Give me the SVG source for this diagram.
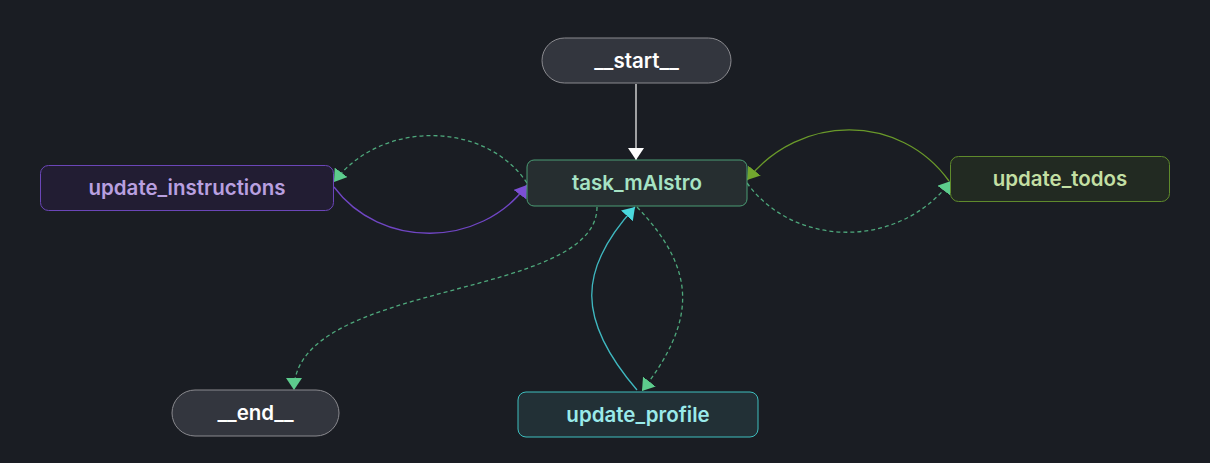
<svg xmlns="http://www.w3.org/2000/svg" width="1210" height="463" viewBox="0 0 1210 463">
<defs>
<style>
.lbl{font-family:Inter,"Noto Sans","Liberation Sans",sans-serif;font-size:20.5px;font-weight:600;text-anchor:middle}
.e{fill:none;stroke-width:1.3}
.d{stroke:#4ea87c;stroke-dasharray:4 3}
</style>
<marker id="aw" markerUnits="userSpaceOnUse" markerWidth="12" markerHeight="16" viewBox="0 0 12 16" refX="12" refY="8" orient="auto"><path d="M0,0 L12,8 L0,16 z" fill="#ffffff"/></marker>
<marker id="ag" markerUnits="userSpaceOnUse" markerWidth="12" markerHeight="16" viewBox="0 0 12 16" refX="12" refY="8" orient="auto"><path d="M0,0 L12,8 L0,16 z" fill="#5dcc8d"/></marker>
<marker id="ap" markerUnits="userSpaceOnUse" markerWidth="12" markerHeight="16" viewBox="0 0 12 16" refX="12" refY="8" orient="auto"><path d="M0,0 L12,8 L0,16 z" fill="#7b4fd3"/></marker>
<marker id="ao" markerUnits="userSpaceOnUse" markerWidth="12" markerHeight="16" viewBox="0 0 12 16" refX="12" refY="8" orient="auto"><path d="M0,0 L12,8 L0,16 z" fill="#72a62e"/></marker>
<marker id="ac" markerUnits="userSpaceOnUse" markerWidth="12" markerHeight="16" viewBox="0 0 12 16" refX="12" refY="8" orient="auto"><path d="M0,0 L12,8 L0,16 z" fill="#4ad8dd"/></marker>
</defs>
<rect width="1210" height="463" fill="#1a1d23"/>
<g id="connectors">
<path class="e" stroke="#e8e8e8" d="M636,84 L636,160" marker-end="url(#aw)"/>
<path class="e d" d="M527,183 C485,120 380,120 334,182" marker-end="url(#ag)"/>
<path class="e" stroke="#7046c4" d="M334,187 C380,249 480,249 527,185" marker-end="url(#ap)"/>
<path class="e" stroke="#6a9a2a" d="M949,181 C900,113 800,113 747,180" marker-end="url(#ao)"/>
<path class="e d" d="M747,183 C795,249 900,249 951,181" marker-end="url(#ag)"/>
<path class="e d" d="M597,207 C597,300 294,280 294,390" marker-end="url(#ag)"/>
<path class="e" stroke="#3fb8c0" d="M637,390 C577,320 577,270 635,207" marker-end="url(#ac)"/>
<path class="e d" d="M637,207 C697,270 697,320 642,391" marker-end="url(#ag)"/>
</g>
<g id="node-start">
<rect x="542" y="38" width="189" height="45" rx="22.5" fill="#33363e" stroke="#8a8a8f" stroke-width="1"/>
<text class="lbl" x="636.5" y="68" fill="#ffffff">__start__</text>
</g>
<g id="node-task_mAIstro">
<rect x="527" y="160" width="220" height="46" rx="7" fill="#262e30" stroke="#4a9c74" stroke-width="1"/>
<text class="lbl" x="637" y="190" fill="#a6e3c4">task_mAIstro</text>
</g>
<g id="node-update_instructions">
<rect x="40.5" y="165.5" width="293" height="45" rx="8" fill="#221d33" stroke="#6b46b8" stroke-width="1"/>
<text class="lbl" x="187" y="195" fill="#b9a0e0">update_instructions</text>
</g>
<g id="node-update_todos">
<rect x="950.5" y="156.5" width="219" height="45" rx="8" fill="#222a22" stroke="#5f8a2c" stroke-width="1"/>
<text class="lbl" x="1060" y="186" fill="#c3dfa3">update_todos</text>
</g>
<g id="node-end">
<rect x="172" y="390" width="167" height="46" rx="23" fill="#33363e" stroke="#8a8a8f" stroke-width="1"/>
<text class="lbl" x="255.5" y="420" fill="#ffffff">__end__</text>
</g>
<g id="node-update_profile">
<rect x="518" y="392" width="240" height="45" rx="8" fill="#223036" stroke="#3ebfbf" stroke-width="1"/>
<text class="lbl" x="638" y="422" fill="#9aeaea">update_profile</text>
</g>
</svg>
